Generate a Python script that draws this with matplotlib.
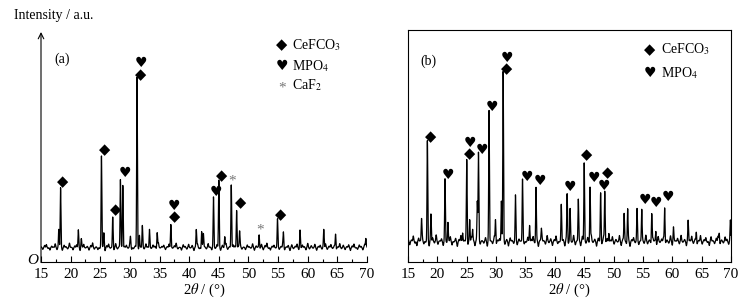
import matplotlib
matplotlib.use("Agg")
import matplotlib.pyplot as plt
import numpy as np

plt.rcParams['font.family'] = ['Liberation Serif', 'DejaVu Sans']
plt.rcParams['mathtext.fontset'] = 'stix'

# ***** DATA *****
# panel (a): peaks (2theta, intensity)
a_peak_pos = [18.0, 18.3, 21.3, 21.8, 25.2, 25.6, 27.1, 28.4, 28.8, 30.1, 31.2, 31.6,
              32.1, 33.3, 34.6, 36.9, 41.2, 42.1, 42.4, 44.1, 45.0, 46.0, 47.1, 48.0,
              48.5, 51.8, 54.9, 55.9, 58.7, 62.7, 64.7, 69.8]
a_peak_int = [14.5, 31.5, 14.5, 10.0, 45.0, 12.5, 19.5, 35.5, 34.5, 10.5, 79.0, 12.0,
              15.0, 15.5, 13.0, 17.5, 14.0, 13.5, 12.0, 27.5, 35.0, 11.0, 34.0, 23.5,
              13.0, 12.0, 17.5, 12.5, 14.0, 14.0, 12.5, 10.0]
a_base = 6.3
# panel (a): baseline noise, one value every 0.3 deg from 15
a_noise = [0.3, -0.8, 0.9, 1.3, -0.4, -1.1, 0.6, 0.2, 1.6, -0.9, -0.3, 0.8, -1.2, 1.0, 0.4, -0.6, 1.9, 0.1, -1.0, 0.7, 1.2, -0.5, -1.3,
           0.6, 1.4, -0.2, 0.5, -1.1, 0.9, 2.0, -0.7, 0.3, -0.9, -0.4, 1.1, 0.6, -1.4, 0.8, 1.5, -0.3, 0.2, -1.0, 1.7, -0.6, 0.4, 0.9,
           -1.2, 0.5, 1.0, -0.3, 1.8, -0.8, -0.5, 0.7, 1.3, -1.1, 0.2, 0.9, -0.6, 1.6, 0.3, -1.3, -0.4, 1.1, 0.6, -0.8, 2.1, -0.2, 0.5,
           1.0, -0.9, 0.4, 1.5, -1.2, -0.3, 0.8, 1.9, -0.6, 0.1, -1.1, 1.2, 0.5, -0.7, 1.4, -0.2, 0.9, -1.3, 0.3, 1.6, -0.5, -0.9, 1.1,
           0.4, -0.6, 1.7, 0.2, -1.0, 0.8, -0.4, 1.3, 0.6, -1.2, 1.0, -0.1, 1.8, -0.8, 0.3, -0.5, 1.2, 0.7, -1.1, 0.5, 1.5, -0.7, 0.2,
           -0.9, 1.1, 0.4, -0.3, 1.6, -1.2, 0.7, 0.2, -0.6, 1.4, -1.0, 0.9, 1.9, -0.4, -1.1, 0.6, 1.0, -0.2, 1.3, -0.8, 0.5, 1.7, -1.0,
           0.3, 0.9, -1.3, 1.2, -0.5, 0.6, 1.5, -0.9, -0.2, 1.1, 0.4, -1.0, 1.8, -0.6, 0.8, -0.3, 1.4, -1.2, 0.5, 1.0, -0.7, 0.2, 1.6,
           -0.8, 0.6, 1.3, -0.4, 0.9, -1.1, 0.3, 1.7, -0.5, 1.0, -0.9, 0.4, 1.2, -1.3, 0.7, 1.5, -0.2, -0.8, 1.1, 0.5, -1.0, 1.4, 0.6]

# panel (b): peaks
b_peak_pos = [17.3, 18.3, 18.9, 21.3, 21.8, 24.3, 25.0, 25.5, 26.0, 26.8, 27.0, 28.8,
              29.9, 30.9, 31.2, 33.3, 34.5, 35.7, 36.8, 37.7, 41.1, 42.1, 42.6, 44.0,
              45.0, 46.0, 47.8, 48.5, 49.2, 51.8, 52.4, 54.0, 54.8, 56.5, 57.2, 58.7,
              60.2, 62.7, 64.1, 68.0, 69.9]
b_peak_int = [18.0, 51.0, 20.0, 34.0, 17.0, 13.5, 44.0, 19.0, 14.0, 26.0, 45.0, 64.0,
              19.0, 27.0, 80.0, 27.0, 33.5, 17.5, 32.0, 14.0, 23.5, 29.0, 22.0, 27.0,
              42.5, 33.0, 30.0, 31.0, 14.0, 21.0, 22.5, 21.0, 22.5, 21.5, 14.0, 24.0,
              15.0, 16.5, 13.5, 13.0, 15.5]
b_base = 9.0
b_noise = [1.2, -1.5, 0.6, 2.3, -0.8, -1.9, 1.4, 0.3, 2.6, -1.1, -0.4, 1.8, -2.0, 0.9, 1.5, -0.7, 2.8, -1.3, 0.2, 1.1, -1.8, 2.2, -0.5,
           0.7, 2.0, -1.6, -0.3, 1.3, -2.2, 0.8, 2.5, -0.9, 0.4, 1.7, -1.4, -0.6, 2.1, 0.5, -1.9, 1.0, 2.7, -1.2, 0.3, -0.8, 1.6, -2.1,
           1.9, 0.2, -1.0, 2.4, -1.7, 0.6, 1.2, -0.5, 2.9, -1.3, 0.8, -2.0, 1.5, 0.4, -0.9, 2.2, -1.5, 1.0, 0.1, 2.6, -1.1, -0.4, 1.8,
           -1.6, 0.9, 2.1, -0.7, 1.4, -2.2, 0.5, 1.9, 0.3, -1.2, 2.5, -0.6, 1.1, -1.8, 0.7, 2.3, -1.0, -0.3, 1.6, 0.8, -2.0, 2.0, -0.9,
           1.3, -0.4, 2.6, -1.5, 0.2, 1.0, -1.9, 2.2, 0.6, -0.8, 1.7, -1.3, 2.8, -0.5, 0.9, -2.1, 1.4, 0.3, -1.1, 2.4, -0.7, 1.2, -1.6,
           0.5, 2.0, -1.2, 0.8, -0.3, 2.5, -1.8, 1.1, 0.4, -1.0, 1.9, -2.2, 0.7, 1.6, -0.6, 2.3, -1.4, 0.2, 1.2, -0.9, 2.7, -1.1, 0.6,
           -1.3, 1.5, 0.3, -2.0, 2.1, -0.5, 1.0, 1.8, -1.4, 0.6, -0.8, 2.4, -1.7, 0.9, 0.2, 1.3, -1.1, 2.6, -0.4, 0.8, -1.9, 1.7, 0.5,
           2.2, -0.9, 1.1, -1.6, 0.4, 2.5, -1.2, 0.7, 1.6, -0.5, -1.8, 2.0, 0.3, -1.0, 1.4, 2.3, -1.5, 0.6, -0.7, 1.9, 0.9, -1.3, 2.8]

# phase markers: (2theta, height)
a_diamond = [(18.7, 35.0), (25.7, 48.7), (27.6, 22.6), (31.8, 81.5), (37.5, 19.6),
             (45.5, 37.5), (48.7, 26.0), (55.5, 20.8)]
a_heart = [(29.1, 38.7), (31.8, 86.5), (37.5, 24.5), (44.5, 30.5)]
a_star = [(47.2, 36.6), (52.0, 15.3)]

b_diamond = [(18.8, 54.5), (25.5, 47.0), (31.8, 84.3), (45.4, 46.5), (48.9, 38.7)]
b_heart = [(21.8, 37.8), (25.5, 51.7), (27.6, 48.7), (29.3, 67.4), (31.8, 88.7),
           (35.2, 37.0), (37.4, 35.2), (42.6, 32.6), (46.6, 36.5), (48.3, 33.0),
           (55.4, 27.0), (57.3, 25.7), (59.3, 28.3)]

xticks = [15, 20, 25, 30, 35, 40, 45, 50, 55, 60, 65, 70]


def profile(x, base, pos, ints, noise):
    y = np.full_like(x, base)
    for p, h in zip(pos, ints):
        y += (h - base) * np.exp(-0.5 * ((x - p) / 0.06) ** 2)
    for i, h in enumerate(noise):
        y += h * np.exp(-0.5 * ((x - (15 + 0.3 * i)) / 0.07) ** 2)
    return y


def diamond(ax, x, y):
    ax.text(x, y, "\u25c6", fontsize=10.5, ha='center', va='center', family='DejaVu Sans')


def heart(ax, x, y):
    ax.text(x, y, "\u2665", fontsize=10, ha='center', va='center', family='DejaVu Sans')


def star(ax, x, y):
    ax.text(x, y - 1.5, "*", fontsize=11, ha='center', va='center', color='#777777')


x = np.arange(15, 70.01, 0.02)

fig = plt.figure(figsize=(7.49, 3.06), dpi=100)

# ***** PANEL (a) *****
ax1 = fig.add_axes([41 / 749, 44 / 306, 326 / 749, 230 / 306])
ax1.plot(x, profile(x, a_base, a_peak_pos, a_peak_int, a_noise), color='black', lw=0.9)
ax1.set_xlim(15, 70)
ax1.set_ylim(0, 100)
for s in ('top', 'right', 'left'):
    ax1.spines[s].set_visible(False)
ax1.set_yticks([])
ax1.annotate('', xy=(0, 1.0), xytext=(0, -0.002), xycoords='axes fraction',
             arrowprops=dict(arrowstyle='->', lw=0.8, color='black', shrinkA=0, shrinkB=0))
for px, py in a_diamond:
    diamond(ax1, px, py)
for px, py in a_heart:
    heart(ax1, px, py)
for px, py in a_star:
    star(ax1, px, py)
ax1.text(18.5, 88, "(a)", fontsize=10, ha='center', va='center')
fig.text(14 / 749, 1 - 15 / 306, "Intensity / a.u.", fontsize=10, ha='left', va='center')
fig.text(33 / 749, 1 - 261 / 306, "O", fontsize=11, style='italic', ha='center', va='center')
# legend
diamond(ax1, 55.6, 94.5)
ax1.text(57.3, 94.5, "CeFCO$_3$", fontsize=10, ha='left', va='center')
heart(ax1, 55.6, 85.0)
ax1.text(57.3, 85.0, "MPO$_4$", fontsize=10, ha='left', va='center')
star(ax1, 55.6, 77.0)
ax1.text(57.3, 77.0, "CaF$_2$", fontsize=10, ha='left', va='center')

# ***** PANEL (b) *****
ax2 = fig.add_axes([408 / 749, 44 / 306, 323 / 749, 232 / 306])
ax2.plot(x, profile(x, b_base, b_peak_pos, b_peak_int, b_noise), color='black', lw=0.9)
ax2.set_xlim(15, 70)
ax2.set_ylim(0, 100.9)
ax2.set_yticks([])
for s in ax2.spines.values():
    s.set_linewidth(0.8)
for px, py in b_diamond:
    diamond(ax2, px, py)
for px, py in b_heart:
    heart(ax2, px, py)
ax2.text(18.5, 87.5, "(b)", fontsize=10, ha='center', va='center')
diamond(ax2, 56.2, 92.5)
ax2.text(58.0, 92.5, "CeFCO$_3$", fontsize=10, ha='left', va='center')
heart(ax2, 56.2, 82.0)
ax2.text(58.0, 82.0, "MPO$_4$", fontsize=10, ha='left', va='center')

for ax in (ax1, ax2):
    ax.set_xticks(xticks)
    ax.set_xticks(np.arange(17.5, 70, 5), minor=True)
    ax.tick_params(axis='x', which='major', direction='in', length=4, width=0.8, labelsize=11, pad=4)
    ax.tick_params(axis='x', which='minor', direction='in', length=2.5, width=0.8)
    ax.spines['bottom'].set_linewidth(0.8)
    ax.set_xlabel(r"2$\theta$ / (°)", fontsize=10.5, labelpad=1)

fig.savefig("out.png", dpi=100)
